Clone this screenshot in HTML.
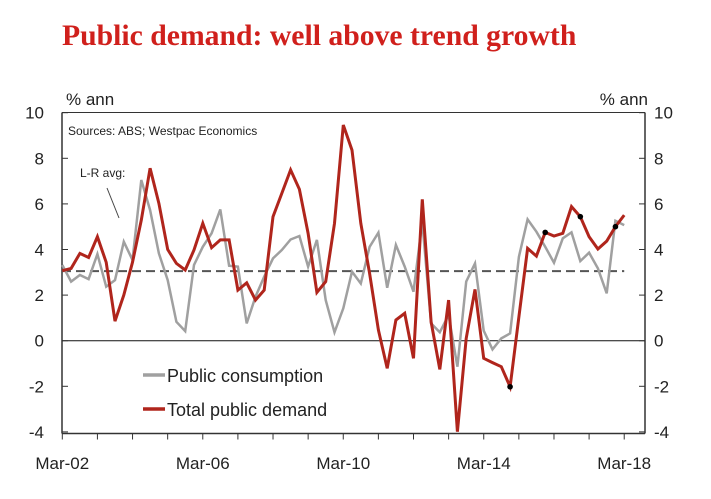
<!DOCTYPE html>
<html><head><meta charset="utf-8"><style>
body{margin:0;background:#fff;width:711px;height:499px;overflow:hidden}
svg{display:block;font-family:"Liberation Sans",Arial,sans-serif}
</style></head><body>
<svg id="c" width="711" height="499">
<text x="62" y="45" font-family="Liberation Serif,serif" font-weight="bold" font-size="29.7" fill="#d0201c">Public demand: well above trend growth</text>
<text x="66" y="105" font-size="17" fill="#222">% ann</text>
<text x="648" y="105" font-size="17" fill="#222" text-anchor="end">% ann</text>
<text x="68" y="135" font-size="12" fill="#222">Sources: ABS; Westpac Economics</text>
<text x="80" y="177" font-size="12" fill="#222">L-R avg:</text>
<line x1="107" y1="188" x2="119" y2="218" stroke="#444" stroke-width="1"/>
<g id="g"></g>
<line x1="143" y1="375" x2="165" y2="375" stroke="#a0a0a0" stroke-width="3.5"/>
<text x="167" y="382" font-size="18" fill="#222">Public consumption</text>
<line x1="143" y1="409" x2="165" y2="409" stroke="#b0251c" stroke-width="3.5"/>
<text x="167" y="416" font-size="18" fill="#222">Total public demand</text>
</svg>
<script>
const yTicks=[10,8,6,4,2,0,-2,-4];
const xLabels=["Mar-02","Mar-06","Mar-10","Mar-14","Mar-18"];
const lrAvg=3.05;
const consumption=[3.32,2.59,2.88,2.7,3.8,2.37,2.66,4.34,3.54,7.05,5.73,3.83,2.66,0.83,0.42,3.32,4.12,4.71,5.76,3.29,3.25,0.76,1.93,2.81,3.61,3.98,4.44,4.59,3.25,4.42,1.78,0.37,1.42,3.03,2.51,4.12,4.74,2.32,4.2,3.25,2.15,5.22,0.76,0.37,1.13,-1.14,2.59,3.39,0.44,-0.38,0.1,0.32,3.68,5.32,4.78,4.12,3.42,4.49,4.75,3.49,3.86,3.17,2.08,5.26,5.07];
const demand=[3.07,3.17,3.83,3.65,4.56,3.44,0.86,2.0,3.44,5.29,7.56,6.02,4.0,3.39,3.1,3.98,5.15,4.08,4.42,4.42,2.22,2.54,1.78,2.22,5.44,6.46,7.49,6.64,4.71,2.12,2.59,5.15,9.46,8.36,5.15,2.95,0.47,-1.21,0.91,1.2,-0.77,6.2,0.83,-1.26,1.78,-3.99,0.1,2.25,-0.77,-0.96,-1.14,-2.02,1.05,4.05,3.71,4.75,4.59,4.71,5.88,5.44,4.56,4.02,4.37,5.0,5.51];
const dotIdx=[51,55,59,63];
const X0=62.3,DX=8.78,Y0=340.7,DY=22.8,L=62,R=645,T=112.5,B=433.5;
const xs=i=>X0+i*DX, ys=v=>Y0-v*DY;
const g=document.getElementById('g');
const NS="http://www.w3.org/2000/svg";
function mk(t,a){const e=document.createElementNS(NS,t);for(const k in a)e.setAttribute(k,a[k]);g.appendChild(e);return e;}
let e=mk('line',{x1:L,y1:T,x2:R,y2:T,stroke:'#333','stroke-width':1});

e=mk('line',{x1:L,y1:T,x2:L,y2:B,stroke:'#333','stroke-width':1.5});

e=mk('line',{x1:R,y1:T,x2:R,y2:B,stroke:'#333','stroke-width':1.5});

e=mk('line',{x1:L,y1:B,x2:R,y2:B,stroke:'#333','stroke-width':1.5});

e=mk('line',{x1:L,y1:ys(0),x2:R,y2:ys(0),stroke:'#111','stroke-width':1});

yTicks.forEach(v=>{
 const y=ys(v);
 let t=mk('line',{x1:L,y1:y,x2:L+6,y2:y,stroke:'#333'});
 
 t=mk('line',{x1:R-6,y1:y,x2:R,y2:y,stroke:'#333'});
 
 let l=mk('text',{x:44,y:y+6,'font-size':17,fill:'#222','text-anchor':'end'});l.textContent=v;
 
 l=mk('text',{x:654,y:y+6,'font-size':17,fill:'#222'});l.textContent=v;
 
});
for(let i=0;i<=64;i+=4){
 const t=mk('line',{x1:xs(i),y1:B,x2:xs(i),y2:B+6,stroke:'#333'});
 
}
xLabels.forEach((s,k)=>{
 const l=mk('text',{x:xs(k*16),y:469,'font-size':17,fill:'#222','text-anchor':'middle'});l.textContent=s;
 
});
e=mk('line',{x1:L,y1:ys(lrAvg),x2:xs(64),y2:ys(lrAvg),stroke:'#555','stroke-width':2,'stroke-dasharray':'9,5'});

const pts=a=>a.map((v,i)=>xs(i).toFixed(1)+','+ys(v).toFixed(1)).join(' ');
e=mk('polyline',{points:pts(consumption),fill:'none',stroke:'#a0a0a0','stroke-width':2.5,'stroke-linejoin':'miter'});

e=mk('polyline',{points:pts(demand),fill:'none',stroke:'#b0251c','stroke-width':3,'stroke-linejoin':'miter'});

dotIdx.forEach(i=>{
 const d=mk('circle',{cx:xs(i),cy:ys(demand[i]),r:2.8,fill:'#000'});
 
});
</script>
</body></html>
